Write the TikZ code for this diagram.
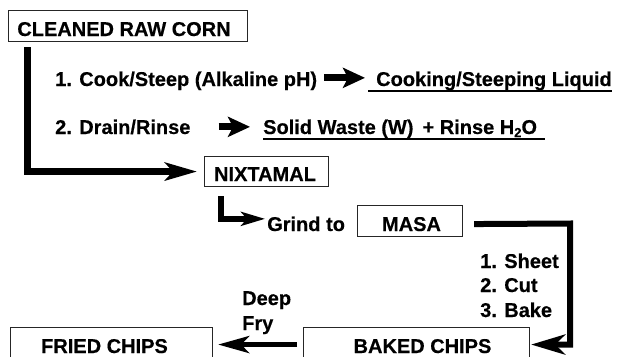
\documentclass[tikz,border=0pt]{standalone}
\usepackage{fontspec}
\newfontfamily\lblfont{Liberation Sans}[BoldFeatures={FakeBold=0.4}]
\usetikzlibrary{arrows.meta}
\tikzset{
  txt/.style={inner sep=0pt, font=\lblfont\bfseries\fontsize{20pt}{22pt}\selectfont, text height=14.3pt, text depth=0pt},
  box/.style={draw=black!85, line width=1.1pt, inner sep=0pt, anchor=north west},
  fat/.style={line width=7pt, -{Stealth[length=22pt,width=20pt,inset=5pt]}},
  bigl/.style={line width=6.5pt, -{Stealth[length=32pt,width=18pt,inset=8pt]}},
  smalll/.style={line width=6pt, -{Stealth[length=24pt,width=14pt,inset=6pt]}},
  rpath/.style={line width=6pt, -{Stealth[length=34pt,width=20pt,inset=10pt]}},
  fryarrow/.style={line width=5pt, -{Stealth[length=31pt,width=17pt,inset=8pt]}},
  uline/.style={line width=1.5pt}
}
\begin{document}
\begin{tikzpicture}[x=1pt,y=-1pt]
\useasboundingbox (0,0) rectangle (617,356);
\clip (0,0) rectangle (617,356);
% boxes
\node[box, minimum width=239pt, minimum height=31pt] (crcbox) at (8,10) {};
\node[box, minimum width=124pt, minimum height=30pt] (nixbox) at (204,156) {};
\node[box, minimum width=105pt, minimum height=31pt] (masabox) at (357,205) {};
\node[box, minimum width=202pt, minimum height=34pt] (friedbox) at (10,327) {};
\node[box, minimum width=226pt, minimum height=34pt] (bakedbox) at (303,327) {};
% texts
\node[txt, anchor=base] (crc) at (124,36) {CLEANED RAW CORN};
\node[txt, anchor=base west] (cook) at (55,86) {1. Cook/Steep (Alkaline pH)};
\node[txt, anchor=base west] (liquid) at (376,86) {Cooking/Steeping Liquid};
\node[txt, anchor=base west] (drain) at (55,134) {2. Drain/Rinse};
\node[txt, anchor=base west] (solid) at (263,134) {Solid Waste (W)\hspace{0.45em}+ Rinse H\raisebox{-3pt}{\fontsize{13pt}{13pt}\selectfont 2}O};
\node[txt, anchor=base] (nix) at (265,181) {NIXTAMAL};
\node[txt, anchor=base west] (grind) at (267,231) {Grind to};
\node[txt, anchor=base] (masa) at (411.5,231) {MASA};
\node[txt, anchor=base west] (sheet) at (480,268) {1. Sheet};
\node[txt, anchor=base west] (cut) at (480,292) {2. Cut};
\node[txt, anchor=base west] (bake) at (480,317) {3. Bake};
\node[txt, anchor=base west] (deep) at (242,305) {Deep};
\node[txt, anchor=base west] (fry) at (242,330) {Fry};
\node[txt, anchor=base] (fried) at (104.5,353) {FRIED CHIPS};
\node[txt, anchor=base] (baked) at (422.5,353) {BAKED CHIPS};
% underlines
\draw[uline] ([xshift=-8pt,yshift=-5pt]liquid.base west) -- ([yshift=-5pt]liquid.base east);
\draw[uline] ([yshift=-5pt]solid.base west) -- ([xshift=8pt,yshift=-5pt]solid.base east);
% connectors
\draw[fat] ([xshift=7pt,yshift=1pt]cook.east) -- ([xshift=-11pt,yshift=1pt]liquid.west);
\draw[fat] ([xshift=28pt]drain.east) -- ([xshift=-13pt]solid.west);
\coordinate (c1) at (27.5,47);
\draw[bigl] (c1) |- ([xshift=-7pt]nixbox.west);
\coordinate (c2) at (221,196);
\draw[smalll] (c2) |- ([xshift=-2pt,yshift=5pt]grind.west);
\coordinate (m1) at ([xshift=11pt,yshift=-3pt]masabox.east);
\coordinate (m2) at (570,223.5);
\draw[rpath] (m1) -- (m2) |- ([xshift=1pt]bakedbox.east);
\draw[fryarrow] ([xshift=-6pt]bakedbox.west) -- ([xshift=5pt]friedbox.east);
\end{tikzpicture}
\end{document}
